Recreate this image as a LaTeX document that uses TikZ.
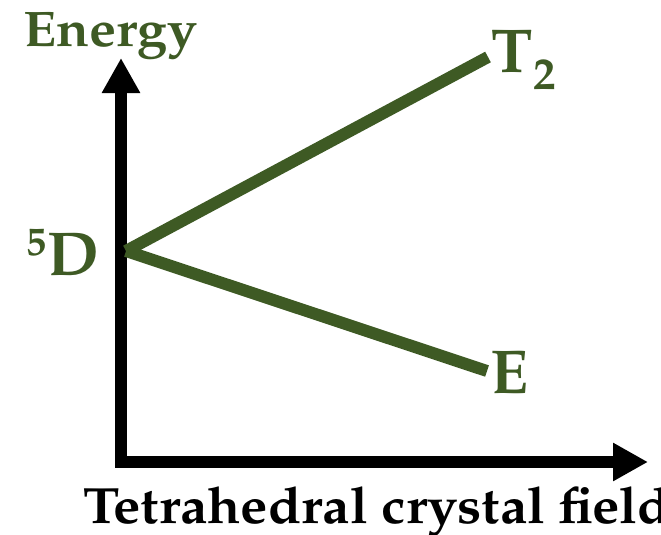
\documentclass[tikz,border=0pt]{standalone}
\usepackage[T1]{fontenc}
\renewcommand{\rmdefault}{ppl}
\usetikzlibrary{arrows.meta}
\definecolor{lvlgreen}{RGB}{62,90,36}
\tikzset{
  axis/.style={line width=12pt, line join=miter, -{Triangle[length=35pt,width=36pt]}},
  level/.style={line width=12pt, draw=lvlgreen},
  biglabel/.style={text=lvlgreen, font=\fontsize{62}{62}\selectfont\bfseries, inner sep=0pt},
  axlabel/.style={font=\fontsize{50}{50}\selectfont\bfseries, inner sep=0pt}
}
\begin{document}
\begin{tikzpicture}[x=1pt,y=-1pt]
\useasboundingbox (0,0) rectangle (661,535);
\coordinate (O) at (121,462);
\coordinate (ytip) at (121,58);
\coordinate (xtip) at (648,462);
\coordinate (D) at (126,251);
\coordinate (T) at (488,57);
\coordinate (Eend) at (487,371);
\draw[axis] (O) -- (ytip);
\draw[axis] (115,462) -- (xtip);
\draw[level] (D) -- (T);
\draw[level] (D) -- (Eend);
\node[axlabel, text=lvlgreen, anchor=base] (energy) at (111,47) {\scalebox{1.08}[1]{Energy}};
\node[biglabel, anchor=base east] (dlab) at (99,275) {\raisebox{20pt}{\fontsize{40}{40}\selectfont 5}\kern1pt D};
\node[biglabel, anchor=base west] (tlab) at (491,73) {T\kern1pt\raisebox{-17pt}{\fontsize{45}{45}\selectfont 2}};
\node[biglabel, anchor=base west] (elab) at (490,393) {E};
\node[axlabel, font=\fontsize{51}{51}\selectfont\bfseries, anchor=base west] (xlab) at (83,523) {\scalebox{1.07}[1]{Tetrahedral crystal field}};
\end{tikzpicture}
\end{document}
